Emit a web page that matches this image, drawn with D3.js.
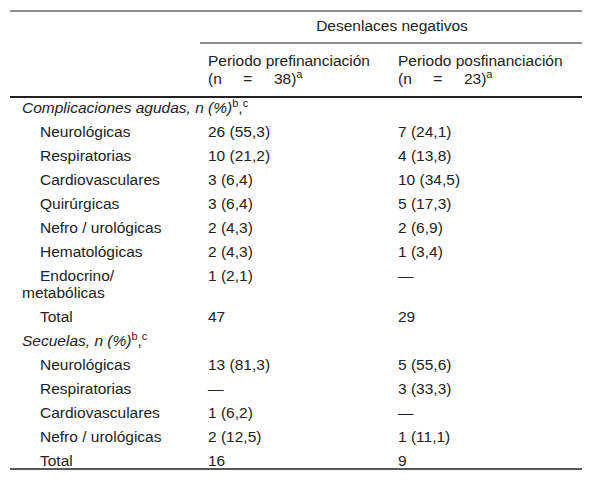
<!DOCTYPE html><html><head><meta charset="utf-8"><script src="https://cdn.jsdelivr.net/npm/d3@7"></script>
<style>body{margin:0;background:#fff}text{font-family:"Liberation Sans",Arial,sans-serif;font-size:15.5px;fill:#222;white-space:pre}</style></head><body><svg width="592" height="482"></svg><script>
const sections=["Complicaciones agudas, n (%)","Secuelas, n (%)"];
const acuteCategories=["Neurológicas","Respiratorias","Cardiovasculares","Quirúrgicas","Nefro / urológicas","Hematológicas","Endocrino/|metabólicas","Total"];
const acutePre=["26 (55,3)","10 (21,2)","3 (6,4)","3 (6,4)","2 (4,3)","2 (4,3)","1 (2,1)","47"];
const acutePost=["7 (24,1)","4 (13,8)","10 (34,5)","5 (17,3)","2 (6,9)","1 (3,4)","—","29"];
const seqCategories=["Neurológicas","Respiratorias","Cardiovasculares","Nefro / urológicas","Total"];
const seqPre=["13 (81,3)","—","1 (6,2)","2 (12,5)","16"];
const seqPost=["5 (55,6)","3 (33,3)","—","1 (11,1)","9"];
const svg=d3.select("svg");
const L=10,R=582,c1=208,c2=398;
function line(x1,x2,y,w){svg.append("line").attr("x1",x1).attr("x2",x2).attr("y1",y).attr("y2",y).attr("stroke","#222").attr("stroke-width",w);}
line(L,R,11,1);line(200,R,43,1);line(L,R,97,2);line(L,R,469,1.5);
svg.append("text").attr("x",392).attr("y",31).attr("text-anchor","middle").text("Desenlaces negativos");
function hdr(x,t){svg.append("text").attr("x",x).attr("y",66).text("Periodo "+t);
 const tt=svg.append("text").attr("x",x).attr("y",84).attr("xml:space","preserve");tt.append("tspan").text("(n     =     "+(t==="prefinanciación"?"38":"23")+")");
 tt.append("tspan").attr("dy",-6).style("font-size","11px").text("a");}
hdr(c1,"prefinanciación");hdr(c2,"posfinanciación");
function sec(y,t){const s=svg.append("text").attr("x",22).attr("y",y);s.append("tspan").style("font-style","italic").text(t);
 s.append("tspan").attr("dy",-6).style("font-size","11px").text("b");s.append("tspan").attr("dy",6).text(",");s.append("tspan").attr("dy",-6).style("font-size","11px").text("c");}
let y=113;sec(y,sections[0]);
function rows(cats,pre,post){cats.forEach((c,i)=>{y+=24;const parts=c.split("|");
 svg.append("text").attr("x",40).attr("y",y).text(parts[0]);
 svg.append("text").attr("x",c1).attr("y",y).text(pre[i]);
 svg.append("text").attr("x",c2).attr("y",y).text(post[i]);
 if(parts[1]){y+=17;svg.append("text").attr("x",22).attr("y",y).text(parts[1]);}});}
rows(acuteCategories,acutePre,acutePost);
y+=24;sec(y,sections[1]);
rows(seqCategories,seqPre,seqPost);
</script></body></html>
